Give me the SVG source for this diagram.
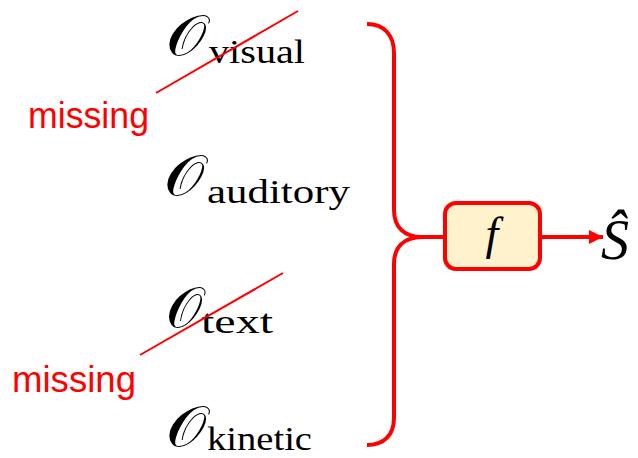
<svg xmlns="http://www.w3.org/2000/svg" width="638" height="458" viewBox="0 0 638 458">
  <defs>
    <style>
      .cal { font-family: "DejaVu Serif", "DejaVu Sans", "Noto Sans", serif; font-size: 56px; fill: #000; }
      .sub { font-family: "Liberation Serif", "Times New Roman", Times, serif; font-size: 34px; fill: #000; }
      .miss { font-family: "Liberation Sans", Arial, Helvetica, sans-serif; font-size: 36px; fill: #ff0000; }
      .strike { stroke: #ff0000; stroke-width: 2; fill: none; }
      .red { stroke: #ff0000; stroke-width: 4; fill: none; }
      .math { font-family: "Liberation Serif", "Times New Roman", Times, serif; font-style: italic; fill: #000; }
    </style>
    <marker id="arrow" viewBox="0 0 10 10" refX="10" refY="5" markerUnits="userSpaceOnUse" markerWidth="16" markerHeight="14" orient="auto">
      <path d="M0,0 L10,5 L0,10 z" fill="#ff0000"/>
    </marker>
  </defs>

  <rect width="638" height="458" fill="#ffffff"/>

  <!-- modality inputs -->
  <g id="o-visual">
    <text class="cal" x="166" y="55" textLength="40" lengthAdjust="spacingAndGlyphs">𝒪</text>
    <text class="sub" x="209" y="63" textLength="96" lengthAdjust="spacingAndGlyphs">visual</text>
    <line class="strike" x1="156" y1="93" x2="298" y2="11"/>
  </g>
  <g id="missing-visual">
    <text class="miss" x="28" y="128" textLength="121" lengthAdjust="spacingAndGlyphs">missing</text>
  </g>

  <g id="o-auditory">
    <text class="cal" x="164" y="195" textLength="40" lengthAdjust="spacingAndGlyphs">𝒪</text>
    <text class="sub" x="207" y="203" textLength="143" lengthAdjust="spacingAndGlyphs">auditory</text>
  </g>

  <g id="o-text">
    <text class="cal" x="166" y="327" textLength="36" lengthAdjust="spacingAndGlyphs">𝒪</text>
    <text class="sub" x="201" y="333" textLength="72" lengthAdjust="spacingAndGlyphs">text</text>
    <line class="strike" x1="140" y1="355" x2="283" y2="273"/>
  </g>
  <g id="missing-text">
    <text class="miss" x="12" y="392" textLength="124" lengthAdjust="spacingAndGlyphs">missing</text>
  </g>

  <g id="o-kinetic">
    <text class="cal" x="166" y="446" textLength="40" lengthAdjust="spacingAndGlyphs">𝒪</text>
    <text class="sub" x="207" y="450" textLength="105" lengthAdjust="spacingAndGlyphs">kinetic</text>
  </g>

  <!-- fusion function -->
  <g id="f-node">
    <rect x="445" y="203" width="95" height="66" rx="11" ry="11" fill="#fff2cc" stroke="#ff0000" stroke-width="4"/>
    <text class="math" x="492" y="249" font-size="46" text-anchor="middle">f</text>
  </g>

  <g id="s-hat">
    <text class="math" x="601" y="259" font-size="56">Ŝ</text>
  </g>

  <!-- connectors -->
  <g id="connectors">
    <path class="red" d="M367,24 C384,24 394,35 394,53 L394,210 C394,227 404,237 422,237 C404,237 394,247 394,264 L394,418 C394,435 384,445 367,445"/>
    <line class="red" x1="420" y1="237" x2="445" y2="237"/>
    <line class="red" x1="540" y1="237" x2="603" y2="237" stroke-width="3.5" marker-end="url(#arrow)"/>
  </g>
</svg>
